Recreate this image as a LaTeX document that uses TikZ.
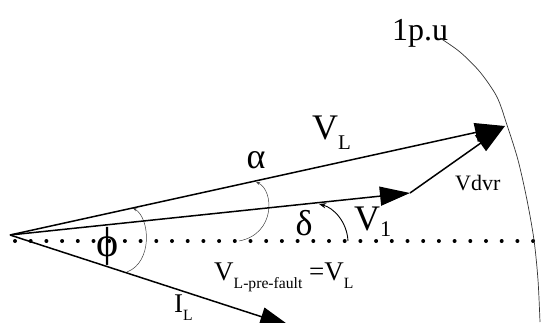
\documentclass[tikz,border=0pt]{standalone}
\usepackage{fontspec}
\setmainfont{Liberation Serif}
\usetikzlibrary{arrows.meta}

\newcommand{\idx}[1]{\raisebox{-0.3em}{\scalebox{0.58}{#1}}}

\begin{document}
\begin{tikzpicture}[x=1pt, y=-1pt]
    \tikzset{
        phasor/.style={line width=1.5pt, -{Triangle[length=30pt,width=19pt]}},
        angle_arc/.style={line width=0.5pt, black!75},
        ref_line/.style={line width=4pt, line cap=round, dash pattern=on 0pt off 15.7pt},
        unit_circle/.style={line width=0.7pt, black!80},
        big_label/.style={font=\fontsize{36}{40}\selectfont, inner sep=0pt},
        mid_label/.style={font=\fontsize{27}{30}\selectfont, inner sep=0pt},
        small_label/.style={font=\fontsize{22}{26}\selectfont, inner sep=0pt}
    }
    \useasboundingbox (0,0) rectangle (542,322);
    \clip (0,0) rectangle (542,322);

    % Zeigerpunkte
    \coordinate (O) at (10,235);
    \coordinate (VL) at (505,126);
    \coordinate (V1) at (410,193);
    \coordinate (IL) at (290,326);
    \coordinate (ref_start) at (15,241);
    \coordinate (ref_end) at (545,241);

    % Bezugslinie (gepunktet)
    \draw[ref_line] (ref_start) -- (ref_end);

    % 1 p.u. Kreisbogen
    \draw[unit_circle] plot[smooth] coordinates {(440,38) (460,52) (480,72) (497,97) (507,125) (518,160) (527,200) (534,240) (538,280) (540,322)};

    % Winkelbögen
    \draw[angle_arc, {Stealth[length=4pt]}-] (256,182) .. controls (274,190) and (276,234) .. (239,241);
    \draw[angle_arc, {Stealth[length=4pt]}-] (133,208) .. controls (150,218) and (153,262) .. (127,272);
    \draw[line width=0.9pt, -{Stealth[length=7pt]}] (348,241) .. controls (347,222) and (334,208) .. (319,204);

    % Zeiger
    \draw[phasor] (O) -- (VL);
    \draw[phasor] (O) -- (V1);
    \draw[phasor] (O) -- (IL);
    \draw[phasor] (V1) -- (VL);

    % Beschriftung
    \node[big_label, anchor=base west] (lbl_vl) at (312,139) {V\idx{L}};
    \node[big_label, anchor=base] (lbl_alpha) at (256,168) {α};
    \node[big_label, anchor=base] (lbl_delta) at (304,235) {δ};
    \node[big_label, anchor=base west] (lbl_v1) at (354,230) {V\raisebox{-0.18em}{\scalebox{0.62}{1}}};
    \node[font=\fontsize{42}{46}\selectfont, inner sep=0pt] (lbl_phi) at (108,246) {ϕ};
    \node[small_label, anchor=base west] (lbl_vdvr) at (455,190) {Vdvr};
    \node[mid_label, anchor=base west] (lbl_prefault) at (214,280) {V\idx{L-pre-fault} =V\idx{L}};
    \node[mid_label, anchor=base west] (lbl_il) at (174,312) {I\idx{L}};
    \node[font=\fontsize{32}{36}\selectfont, inner sep=0pt, anchor=base west] (lbl_pu) at (392,40) {1p.u};
\end{tikzpicture}
\end{document}
